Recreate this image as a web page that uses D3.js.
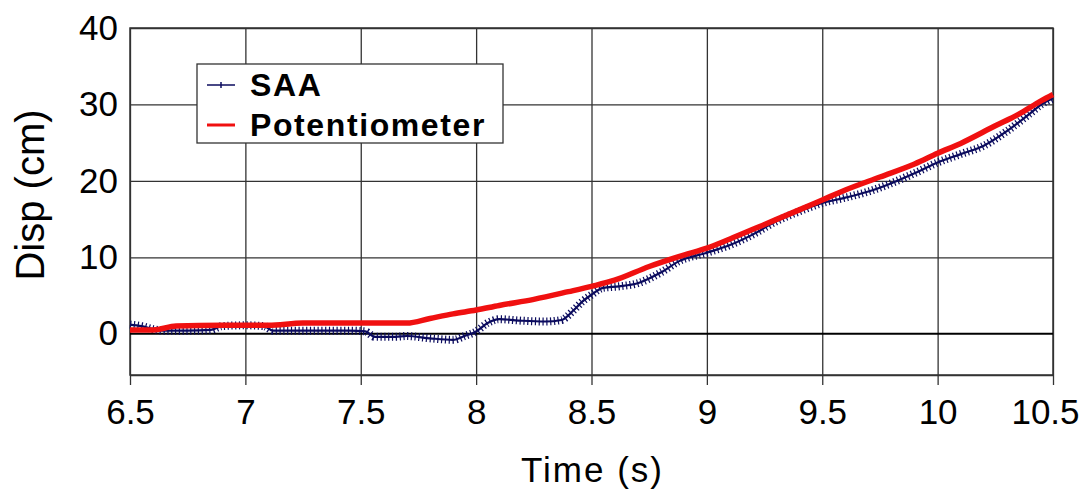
<!DOCTYPE html>
<html>
<head>
<meta charset="utf-8">
<script src="https://cdn.jsdelivr.net/npm/d3@7"></script>
<style>
  body { margin: 0; background: #fff; }
  text { font-family: "Liberation Sans", Arial, sans-serif; }
</style>
</head>
<body>
<div id="chart_div"></div>
<script>
// values
const xTicks = [6.5, 7, 7.5, 8, 8.5, 9, 9.5, 10, 10.5];
const yTicks = [0, 10, 20, 30, 40];

const saaTime = [6.5, 6.55, 6.6, 6.65, 6.75, 6.85, 6.9, 7.0, 7.08, 7.12, 7.3, 7.45, 7.52, 7.56, 7.65, 7.7, 7.8, 7.9, 7.95, 8.0,
  8.05, 8.1, 8.2, 8.3, 8.37, 8.42, 8.46, 8.5, 8.55, 8.62, 8.7, 8.8, 8.88, 9.0, 9.1, 9.2, 9.3, 9.4, 9.5, 9.6,
  9.7, 9.8, 9.9, 10.0, 10.1, 10.2, 10.3, 10.4, 10.45, 10.5];
const saaDisp = [1.2, 1.0, 0.6, 0.4, 0.4, 0.5, 1.0, 1.1, 1.0, 0.4, 0.4, 0.4, 0.3, -0.4, -0.4, -0.3, -0.6, -0.8, -0.3, 0.3,
  1.4, 1.9, 1.7, 1.6, 1.8, 3.0, 4.2, 5.1, 6.0, 6.2, 6.6, 8.0, 9.5, 10.6, 11.6, 13.0, 14.7, 16.0, 17.1, 17.8,
  18.6, 19.7, 21.0, 22.4, 23.5, 24.6, 26.5, 28.8, 30.0, 30.8];

const potTime = [6.5, 6.6, 6.7, 6.9, 7.1, 7.25, 7.5, 7.7, 7.8, 7.9, 8.0, 8.1, 8.25, 8.4, 8.5, 8.6, 8.75, 8.9, 9.0, 9.1,
  9.25, 9.4, 9.5, 9.6, 9.75, 9.9, 10.0, 10.1, 10.25, 10.35, 10.45, 10.5];
const potDisp = [0.5, 0.5, 1.0, 1.1, 1.1, 1.4, 1.4, 1.4, 2.0, 2.6, 3.1, 3.7, 4.5, 5.5, 6.2, 7.0, 8.8, 10.3, 11.2, 12.4,
  14.3, 16.2, 17.5, 18.8, 20.5, 22.2, 23.6, 24.9, 27.2, 28.7, 30.5, 31.3];

const saaColor = "#0b0b5e", potColor = "#f01010", gridColor = "#333";

const margin = {top: 28, right: 32, bottom: 118, left: 130},
    width = 1085 - margin.left - margin.right,
    height = 493 - margin.top - margin.bottom;

const svg = d3.select("#chart_div")
  .append("svg")
    .attr("width", 1085)
    .attr("height", 493)
  .append("g")
    .attr("transform", `translate(${margin.left}, ${margin.top})`);

const x = d3.scaleLinear().domain([6.5, 10.5]).range([0, width]);
const y = d3.scaleLinear().domain([-5.4, 40]).range([height, 0]);

// grid lines
svg.append("g")
  .call(d3.axisBottom(x).tickValues(xTicks).tickSize(height).tickFormat(""))
  .call(g => g.select(".domain").remove())
  .selectAll(".tick line").attr("stroke", gridColor).attr("stroke-width", 1.3);
svg.append("g")
  .call(d3.axisLeft(y).tickValues(yTicks.slice(1)).tickSize(-width).tickFormat(""))
  .call(g => g.select(".domain").remove())
  .selectAll(".tick line").attr("stroke", gridColor).attr("stroke-width", 1.3);

// frame
svg.append("rect")
  .attr("width", width).attr("height", height)
  .attr("fill", "none").attr("stroke", gridColor).attr("stroke-width", 1.5);

// zero line
svg.append("line")
  .attr("x1", 0).attr("x2", width)
  .attr("y1", y(0)).attr("y2", y(0))
  .attr("stroke", "#000").attr("stroke-width", 2.2);

// x axis
const xAxis = svg.append("g")
  .attr("transform", `translate(0, ${height})`)
  .call(d3.axisBottom(x).tickValues(xTicks).tickSizeInner(10).tickSizeOuter(0).tickPadding(14).tickFormat(d => d));
xAxis.select(".domain").attr("stroke", gridColor).attr("stroke-width", 1.5);
xAxis.selectAll(".tick line").attr("stroke", gridColor).attr("stroke-width", 1.3);
xAxis.selectAll("text").attr("font-size", 35).attr("fill", "#000").attr("dy", "0.71em")
  .style("font-family", "'Liberation Sans', Arial, sans-serif");
// last label is pulled in to stay inside the page
xAxis.selectAll(".tick").filter(d => d === 10.5).select("text").attr("dx", -8);

// y axis
const yAxis = svg.append("g")
  .call(d3.axisLeft(y).tickValues(yTicks).tickSize(0).tickPadding(12).tickFormat(d => d));
yAxis.select(".domain").remove();
yAxis.selectAll("text").attr("font-size", 35).attr("fill", "#000")
  .style("font-family", "'Liberation Sans', Arial, sans-serif");

// axis titles
svg.append("text")
  .attr("x", x(8.5) + 1)
  .attr("y", 454)
  .attr("text-anchor", "middle")
  .attr("font-size", 35)
  .style("letter-spacing", "2px")
  .text("Time (s)");
svg.append("text")
  .attr("transform", `translate(${44 - margin.left}, ${195 - margin.top}) rotate(-90)`)
  .attr("text-anchor", "middle")
  .attr("font-size", 40)
  .text("Disp (cm)");

// series
const saaData = saaTime.map((t, i) => ({t: t, v: saaDisp[i]}));
const potData = potTime.map((t, i) => ({t: t, v: potDisp[i]}));
const line = d3.line().x(d => x(d.t)).y(d => y(d.v)).curve(d3.curveMonotoneX);

svg.append("path")
  .datum(saaData)
  .attr("d", line)
  .attr("fill", "none")
  .attr("stroke", saaColor)
  .attr("stroke-width", 2.2);
// hairy marker look of the sensor trace
svg.append("path")
  .datum(saaData)
  .attr("d", line)
  .attr("fill", "none")
  .attr("stroke", saaColor)
  .attr("stroke-width", 8)
  .attr("stroke-dasharray", "1.2,2.6");

svg.append("path")
  .datum(potData)
  .attr("d", line)
  .attr("fill", "none")
  .attr("stroke", potColor)
  .attr("stroke-width", 5.5);

// legend
const legend = svg.append("g").attr("transform", `translate(${197 - margin.left}, ${64 - margin.top})`);
legend.append("rect")
  .attr("width", 306).attr("height", 79)
  .attr("fill", "#fff").attr("stroke", gridColor).attr("stroke-width", 1.3);
const items = [
  {name: "SAA", color: saaColor, w: 1.5, y: 21},
  {name: "Potentiometer", color: potColor, w: 3, y: 61}
];
items.forEach(it => {
  legend.append("line")
    .attr("x1", 10).attr("x2", 38)
    .attr("y1", it.y).attr("y2", it.y)
    .attr("stroke", it.color).attr("stroke-width", it.w);
  legend.append("text")
    .attr("x", 53).attr("y", it.y + 11)
    .attr("font-size", 32)
    .attr("font-weight", "bold")
    .style("letter-spacing", "1.6px")
    .text(it.name);
});
legend.append("line")
  .attr("x1", 24).attr("x2", 24).attr("y1", 18).attr("y2", 24)
  .attr("stroke", saaColor).attr("stroke-width", 1.5);
</script>
</body>
</html>
